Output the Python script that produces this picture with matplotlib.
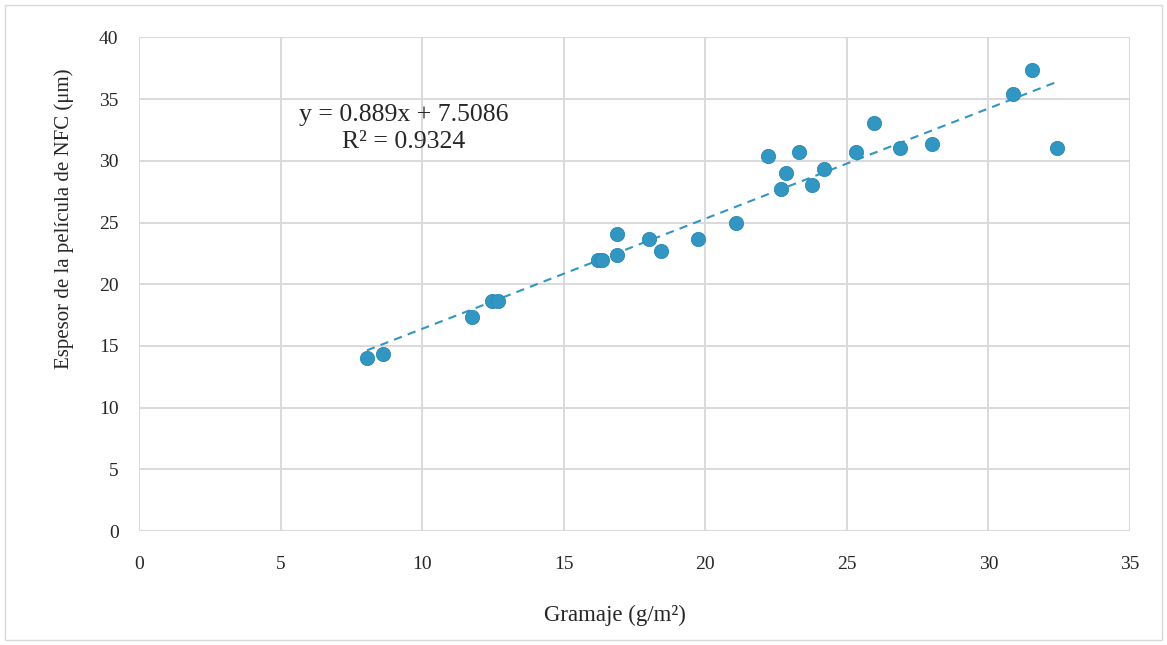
import matplotlib
matplotlib.use("Agg")
import matplotlib.pyplot as plt
import matplotlib.patches as mpatches
import numpy as np

# data
gramaje = [8.04, 8.60, 11.77, 12.45, 12.66, 16.22, 16.34, 16.87, 16.87, 17.99, 18.43,
           19.75, 21.08, 22.20, 22.66, 22.86, 23.32, 23.78, 24.20, 25.31, 25.97, 26.88,
           28.00, 30.86, 31.53, 32.42]
espesor = [14.0, 14.32, 17.34, 18.66, 18.66, 21.96, 21.96, 24.04, 22.34, 23.69, 22.69,
           23.69, 25.0, 30.39, 27.71, 29.04, 30.69, 28.01, 29.33, 30.69, 33.04, 31.04,
           31.36, 35.41, 37.38, 31.04]
x_ticks = [0, 5, 10, 15, 20, 25, 30, 35]
y_ticks = [0, 5, 10, 15, 20, 25, 30, 35, 40]
eq_text = "y = 0.889x + 7.5086\nR² = 0.9324"

blue = '#3196c1'
grid_c = '#d9d9d9'
txt_c = '#262626'
plt.rcParams['font.family'] = ['Liberation Serif', 'DejaVu Serif']

fig = plt.figure(figsize=(11.67, 6.45), dpi=100)
ax = fig.add_axes([0.1194, 0.1767, 0.8489, 0.7653])

ax.set_xlim(0, 35)
ax.set_ylim(0, 40)
ax.set_xticks(x_ticks)
ax.set_yticks(y_ticks)
ax.grid(True, color=grid_c, linewidth=1.4)
ax.set_axisbelow(True)
for s in ax.spines.values():
    s.set_visible(False)
ax.tick_params(length=0, labelsize=14, labelcolor=txt_c)
ax.tick_params(axis='y', pad=15)
ax.tick_params(axis='x', pad=18)

# trend line
coef = np.polyfit(gramaje, espesor, 1)
xs = np.array([min(gramaje), max(gramaje)])
ax.plot(xs, np.polyval(coef, xs), linestyle=(0, (4, 3)), color=blue, linewidth=1.5, zorder=2)

ax.scatter(gramaje, espesor, s=105, color=blue, edgecolors='#2a88b2', linewidths=0.6, zorder=3)

ax.text(0.267, 0.816, eq_text, transform=ax.transAxes, ha='center', va='center',
        fontsize=18.5, color=txt_c, linespacing=1.3)

ax.set_xlabel('Gramaje (g/m²)', fontsize=16.5, color=txt_c)
ax.set_ylabel('Espesor de la película de NFC (μm)', fontsize=15, color=txt_c)
ax.xaxis.set_label_coords(0.48, -0.15)
ax.yaxis.set_label_coords(-0.066, 0.632)

# outer chart border
fig.patches.append(mpatches.Rectangle((5 / 1167, 5 / 645), 1157 / 1167, 635 / 645,
                                      transform=fig.transFigure, fill=False,
                                      edgecolor=grid_c, linewidth=1))

fig.savefig('out.png', dpi=100)
